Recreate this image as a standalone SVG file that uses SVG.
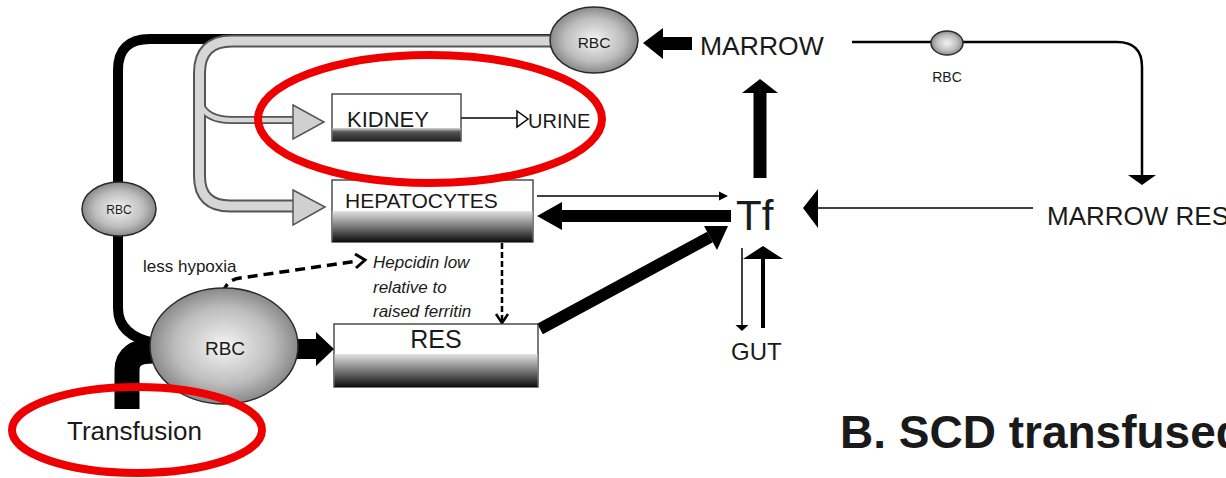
<svg xmlns="http://www.w3.org/2000/svg" width="1226" height="478" viewBox="0 0 1226 478">
<defs>
<radialGradient id="rbc" cx="50%" cy="50%" r="55%">
<stop offset="0" stop-color="#f4f4f4"/>
<stop offset="0.6" stop-color="#bdbdbd"/>
<stop offset="1" stop-color="#7a7a7a"/>
</radialGradient>
<linearGradient id="bar" x1="0" y1="0" x2="0" y2="1">
<stop offset="0" stop-color="#e2e2e2"/>
<stop offset="0.5" stop-color="#7a7a7a"/>
<stop offset="1" stop-color="#0c0c0c"/>
</linearGradient>
<linearGradient id="kbar" x1="0" y1="0" x2="0" y2="1">
<stop offset="0" stop-color="#d8d8d8"/>
<stop offset="0.3" stop-color="#555"/>
<stop offset="1" stop-color="#222"/>
</linearGradient>
<style>
.t{font-family:"Liberation Sans",Arial,sans-serif;fill:#1a1a1a}
.it{font-family:"Liberation Sans",Arial,sans-serif;font-style:italic;fill:#1a1a1a}
.cell{fill:url(#rbc);stroke:#2a2a2a;stroke-width:1.5}
.box{fill:#fff;stroke:#333;stroke-width:1.3}
.blk{fill:#000;stroke:none}
.ln{fill:none;stroke:#000}
.pipeo{fill:none;stroke:#555;stroke-linecap:butt}
.pipei{fill:none;stroke:#d6d6d6;stroke-linecap:butt}
.red{fill:none;stroke:#ee0000;stroke-width:8}
</style>
</defs>
<rect width="1226" height="478" fill="#fff"/>

<g id="connectors">
<path class="ln" stroke-width="10" d="M155 343 Q118 336 118 308 V70 Q118 39 150 39 H560"/>
<path class="ln" stroke-width="25" d="M127 409 V370 Q127 351 153 351"/>
<path class="pipeo" stroke-width="8" d="M199.5 102 Q205 120 232 120 H296"/>
<path class="pipeo" stroke-width="13" d="M556 41 H232 Q199.5 41 199.5 73 V176 Q199.5 206 230 206 H296"/>
<path class="pipei" stroke-width="4.5" d="M199.5 102 Q205 120 232 120 H296"/>
<path class="pipei" stroke-width="9" d="M556 41 H232 Q199.5 41 199.5 73 V176 Q199.5 206 230 206 H296"/>
<polygon points="293,105 324,122 293,139" fill="#d0d0d0" stroke="#555" stroke-width="1.5"/>
<polygon points="293,190 325,207 293,225" fill="#d0d0d0" stroke="#555" stroke-width="1.5"/>
<polygon class="blk" points="643,43 663,28 663,37 692,37 692,50 663,50 663,59"/>
<path class="ln" stroke-width="2.5" d="M852 42 H1117 Q1142 42 1142 67 V177"/>
<polygon class="blk" points="1128,175 1156,175 1142,185"/>
<line x1="1033" y1="208" x2="815" y2="208" stroke="#000" stroke-width="1.5"/>
<polygon class="blk" points="803,208 818,189 818,228"/>
<polygon class="blk" points="760,79 778,93 766.5,93 766.5,178 753.5,178 753.5,93 742,93"/>
<line x1="537" y1="196" x2="720" y2="196" stroke="#000" stroke-width="1.5"/>
<polygon class="blk" points="728,196 719,191.5 719,200.5"/>
<polygon class="blk" points="537,216 562,202 562,210 731,210 731,222 562,222 562,230"/>
<line x1="540" y1="329" x2="710" y2="237" stroke="#000" stroke-width="12"/>
<polygon class="blk" points="728,226 704,226 717,250"/>
<line x1="742" y1="248" x2="742" y2="326" stroke="#000" stroke-width="1.5"/>
<polygon class="blk" points="735.5,325 748.5,325 742,331"/>
<line x1="763" y1="258" x2="763" y2="328" stroke="#000" stroke-width="4"/>
<polygon class="blk" points="763,246 783,259 743,259"/>
<line x1="461" y1="118" x2="517" y2="118" stroke="#000" stroke-width="1.3"/>
<polygon points="517,111 528,119 517,127" fill="#fff" stroke="#000" stroke-width="1.5"/>
<polygon class="blk" points="334,349 316,332 316,339 296,339 296,359 316,359 316,366"/>
<path class="ln" stroke-width="3.5" stroke-dasharray="10,6" d="M223 293 Q226 280 240 278 L358 261"/>
<polyline class="ln" stroke-width="3" points="355,254 365,260 356,268"/>
<line x1="502" y1="243" x2="502" y2="321" stroke="#000" stroke-width="2.5" stroke-dasharray="6,3"/>
<polyline class="ln" stroke-width="2.5" points="496,314 502,323 508,314"/>
</g>

<g id="rbc-top">
<ellipse class="cell" cx="594" cy="40" rx="44" ry="33"/>
<text class="t" x="594" y="48" font-size="15.5" text-anchor="middle">RBC</text>
</g>
<g id="rbc-left">
<ellipse class="cell" cx="119" cy="209" rx="37" ry="27"/>
<text class="t" x="119" y="214" font-size="12" text-anchor="middle">RBC</text>
</g>
<g id="rbc-big">
<ellipse class="cell" cx="224" cy="346" rx="74" ry="58"/>
<text class="t" x="225" y="355" font-size="19" text-anchor="middle">RBC</text>
</g>
<g id="rbc-small">
<ellipse class="cell" cx="947" cy="43" rx="16" ry="12"/>
<text class="t" x="947" y="82" font-size="14" text-anchor="middle">RBC</text>
</g>
<g id="marrow">
<text class="t" x="700" y="55" font-size="26.5">MARROW</text>
</g>
<g id="marrow-res">
<text class="t" x="1047" y="225" font-size="26">MARROW RES</text>
</g>
<g id="tf">
<text class="t" x="736" y="230" font-size="42">Tf</text>
</g>
<g id="gut">
<text class="t" x="731" y="360" font-size="24">GUT</text>
</g>
<g id="kidney">
<rect class="box" x="332" y="94" width="129" height="47"/>
<rect x="332.5" y="128" width="128" height="13" fill="url(#kbar)"/>
<text class="t" x="347" y="127" font-size="22">KIDNEY</text>
</g>
<g id="urine">
<text class="t" x="528" y="128" font-size="20">URINE</text>
</g>
<g id="hepatocytes">
<rect class="box" x="332" y="180" width="201" height="62"/>
<rect x="332.5" y="211" width="200" height="31" fill="url(#bar)"/>
<text class="t" x="345" y="208" font-size="21">HEPATOCYTES</text>
</g>
<g id="res">
<rect class="box" x="334" y="324" width="204" height="63"/>
<rect x="334.5" y="354" width="203" height="33" fill="url(#bar)"/>
<text class="t" x="436" y="348" font-size="25" text-anchor="middle">RES</text>
</g>
<g id="labels">
<text class="t" x="143" y="272" font-size="17">less hypoxia</text>
<text class="it" x="373" y="268" font-size="17">Hepcidin low</text>
<text class="it" x="373" y="293" font-size="17">relative to</text>
<text class="it" x="373" y="317" font-size="17">raised ferritin</text>
<text class="t" x="67" y="440" font-size="26">Transfusion</text>
<text class="t" x="840" y="448" font-size="46" font-weight="bold">B. SCD transfused</text>
</g>
<g id="highlights">
<ellipse class="red" cx="430" cy="119" rx="172" ry="64"/>
<ellipse class="red" cx="137" cy="430" rx="125" ry="43"/>
</g>
</svg>
